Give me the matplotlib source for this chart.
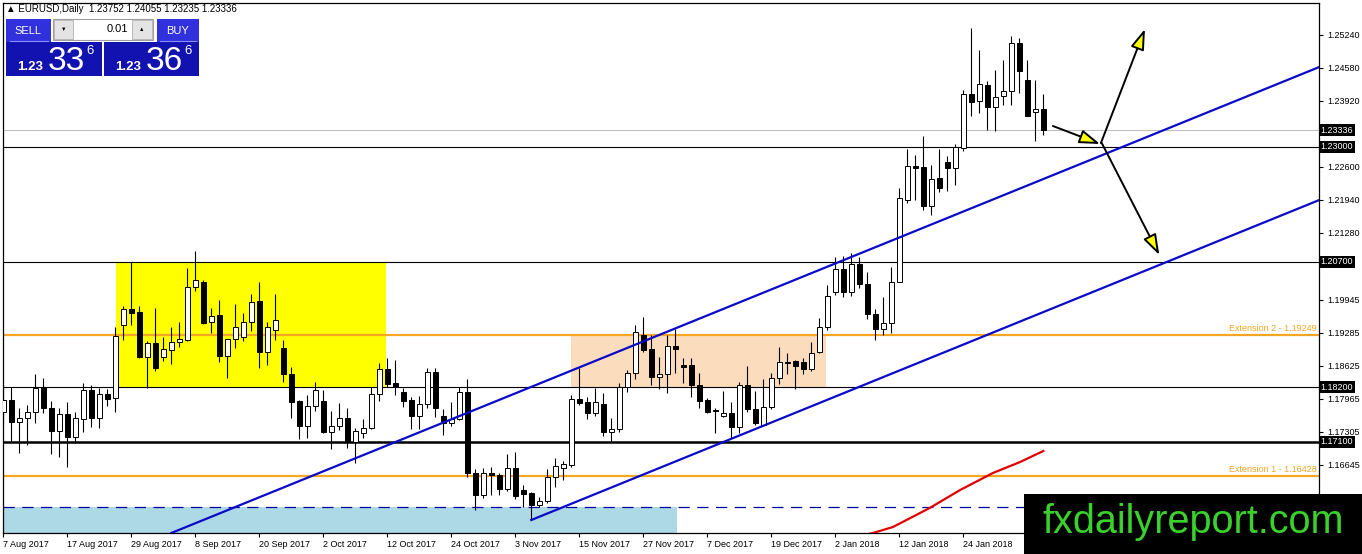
import numpy as np
import matplotlib.pyplot as plt
from matplotlib.patches import Rectangle, FancyArrowPatch
from matplotlib import transforms

plt.rcParams['font.family'] = ['Liberation Sans', 'DejaVu Sans']

# EURUSD daily candles, 7 Aug 2017 -> 7 Feb 2018 (bar index = trading day)
opens = [1.1770, 1.1794, 1.1750, 1.1758, 1.1770, 1.1820, 1.1778, 1.1732, 1.1766, 1.1720,
         1.1756, 1.1814, 1.1758, 1.1806, 1.1798, 1.1944, 1.1976, 1.1970, 1.1880, 1.1908,
         1.1880, 1.1894, 1.1910, 1.1914, 1.2020, 1.2030, 1.1950, 1.1964, 1.1882, 1.1916,
         1.1920, 1.1950, 1.1992, 1.1890, 1.1934, 1.1898, 1.1846, 1.1792, 1.1742, 1.1782,
         1.1792, 1.1730, 1.1742, 1.1758, 1.1710, 1.1728, 1.1738, 1.1806, 1.1856, 1.1828,
         1.1810, 1.1794, 1.1762, 1.1786, 1.1850, 1.1762, 1.1748, 1.1756, 1.1810, 1.1648,
         1.1604, 1.1648, 1.1644, 1.1616, 1.1658, 1.1614, 1.1608, 1.1584, 1.1592, 1.1640,
         1.1658, 1.1664, 1.1796, 1.1790, 1.1768, 1.1786, 1.1730, 1.1736, 1.1820, 1.1848,
         1.1924, 1.1896, 1.1840, 1.1846, 1.1902, 1.1864, 1.1864, 1.1824, 1.1794, 1.1774,
         1.1762, 1.1768, 1.1740, 1.1824, 1.1776, 1.1744, 1.1780, 1.1838, 1.1870, 1.1872,
         1.1870, 1.1856, 1.1890, 1.1940, 1.2010, 1.2056, 1.2010, 1.2066, 1.2026, 1.1966,
         1.1936, 1.1948, 1.2030, 1.2194, 1.2262, 1.2260, 1.2182, 1.2238, 1.2270, 1.2258,
         1.2298, 1.2406, 1.2392, 1.2424, 1.2380, 1.2402, 1.2412, 1.2508, 1.2434, 1.2370,
         1.23752]
highs = [1.1824, 1.1820, 1.1778, 1.1784, 1.1846, 1.1838, 1.1792, 1.1778, 1.1790, 1.1770,
         1.1828, 1.1824, 1.1818, 1.1816, 1.1940, 1.1982, 1.2070, 1.1982, 1.1912, 1.1978,
         1.1920, 1.1940, 1.1950, 1.2058, 1.2092, 1.2034, 1.1978, 1.1994, 1.1916, 1.1986,
         1.1968, 1.2006, 1.2030, 1.1950, 1.2006, 1.1914, 1.1860, 1.1794, 1.1804, 1.1830,
         1.1814, 1.1772, 1.1788, 1.1778, 1.1738, 1.1756, 1.1820, 1.1868, 1.1878, 1.1874,
         1.1818, 1.1800, 1.1802, 1.1858, 1.1858, 1.1776, 1.1790, 1.1820, 1.1836, 1.1656,
         1.1658, 1.1660, 1.1648, 1.1686, 1.1690, 1.1624, 1.1610, 1.1600, 1.1656, 1.1678,
         1.1672, 1.1804, 1.1858, 1.1800, 1.1818, 1.1808, 1.1758, 1.1828, 1.1854, 1.1944,
         1.1960, 1.1924, 1.1880, 1.1924, 1.1936, 1.1878, 1.1878, 1.1848, 1.1798, 1.1778,
         1.1812, 1.1790, 1.1830, 1.1862, 1.1812, 1.1836, 1.1848, 1.1900, 1.1888, 1.1874,
         1.1878, 1.1910, 1.1958, 1.2024, 1.2080, 1.2082, 1.2088, 1.2080, 1.2050, 1.1976,
         1.2000, 1.2060, 1.2218, 1.2296, 1.2284, 1.2322, 1.2264, 1.2296, 1.2282, 1.2306,
         1.2414, 1.2538, 1.2494, 1.2432, 1.2454, 1.2474, 1.2522, 1.2518, 1.2474, 1.2434,
         1.24055]
lows = [1.1744, 1.1710, 1.1688, 1.1704, 1.1748, 1.1768, 1.1686, 1.1680, 1.1660, 1.1708,
        1.1730, 1.1740, 1.1738, 1.1782, 1.1770, 1.1914, 1.1944, 1.1878, 1.1818, 1.1852,
        1.1872, 1.1866, 1.1900, 1.1912, 1.2012, 1.1946, 1.1928, 1.1870, 1.1838, 1.1898,
        1.1912, 1.1932, 1.1858, 1.1864, 1.1914, 1.1830, 1.1758, 1.1716, 1.1718, 1.1772,
        1.1728, 1.1696, 1.1734, 1.1698, 1.1668, 1.1718, 1.1736, 1.1792, 1.1820, 1.1804,
        1.1780, 1.1736, 1.1736, 1.1778, 1.1760, 1.1724, 1.1742, 1.1754, 1.1640, 1.1574,
        1.1598, 1.1604, 1.1604, 1.1612, 1.1596, 1.1580, 1.1554, 1.1580, 1.1588, 1.1620,
        1.1634, 1.1660, 1.1784, 1.1756, 1.1762, 1.1722, 1.1710, 1.1730, 1.1810, 1.1836,
        1.1890, 1.1824, 1.1816, 1.1808, 1.1848, 1.1828, 1.1800, 1.1778, 1.1768, 1.1728,
        1.1760, 1.1718, 1.1728, 1.1770, 1.1744, 1.1742, 1.1776, 1.1826, 1.1846, 1.1816,
        1.1846, 1.1852, 1.1888, 1.1934, 1.2004, 1.2000, 1.2002, 1.2018, 1.1956, 1.1914,
        1.1924, 1.1928, 1.2030, 1.2188, 1.2194, 1.2174, 1.2164, 1.2210, 1.2212, 1.2224,
        1.2292, 1.2362, 1.2368, 1.2334, 1.2332, 1.2384, 1.2384, 1.2408, 1.2362, 1.2312,
        1.23235]
closes = [1.1794, 1.1750, 1.1758, 1.1770, 1.1818, 1.1778, 1.1732, 1.1766, 1.1720, 1.1758,
          1.1814, 1.1758, 1.1806, 1.1796, 1.1922, 1.1976, 1.1968, 1.1880, 1.1908, 1.1858,
          1.1896, 1.1910, 1.1916, 1.2020, 1.2034, 1.1948, 1.1962, 1.1882, 1.1916, 1.1940,
          1.1950, 1.1990, 1.1890, 1.1940, 1.1954, 1.1846, 1.1790, 1.1742, 1.1782, 1.1814,
          1.1730, 1.1742, 1.1758, 1.1710, 1.1732, 1.1738, 1.1806, 1.1856, 1.1826, 1.1820,
          1.1792, 1.1762, 1.1786, 1.1850, 1.1778, 1.1748, 1.1756, 1.1810, 1.1648, 1.1604,
          1.1648, 1.1644, 1.1616, 1.1658, 1.1602, 1.1606, 1.1584, 1.1592, 1.1640, 1.1662,
          1.1666, 1.1796, 1.1788, 1.1768, 1.1790, 1.1730, 1.1736, 1.1820, 1.1848, 1.1930,
          1.1894, 1.1840, 1.1846, 1.1902, 1.1896, 1.1860, 1.1824, 1.1792, 1.1770, 1.1772,
          1.1768, 1.1740, 1.1824, 1.1776, 1.1748, 1.1780, 1.1838, 1.1870, 1.1868, 1.1862,
          1.1856, 1.1888, 1.1940, 1.2002, 1.2056, 1.2010, 1.2066, 1.2026, 1.1966, 1.1936,
          1.1948, 1.2030, 1.2198, 1.2262, 1.2258, 1.2182, 1.2236, 1.2218, 1.2258, 1.2300,
          1.2406, 1.2390, 1.2426, 1.2380, 1.2400, 1.2412, 1.2508, 1.2452, 1.2362, 1.2376,
          1.23336]

date_labels = ["7 Aug 2017", "17 Aug 2017", "29 Aug 2017", "8 Sep 2017", "20 Sep 2017",
               "2 Oct 2017", "12 Oct 2017", "24 Oct 2017", "3 Nov 2017", "15 Nov 2017",
               "27 Nov 2017", "7 Dec 2017", "19 Dec 2017", "2 Jan 2018", "12 Jan 2018",
               "24 Jan 2018"]
date_bars = list(range(0, 121, 8))

price_ticks = [1.25240, 1.24580, 1.23920, 1.23260, 1.22600, 1.21940, 1.21280, 1.20620,
               1.19945, 1.19285, 1.18625, 1.17965, 1.17305, 1.16645, 1.15985]
hidden_ticks = [1.23260, 1.20620]   # covered by the level boxes

levels = [1.23000, 1.20700, 1.18200]
strong_level = 1.17100
current_price = 1.23336
ext_levels = [1.19249, 1.16428]
ext_names = ["Extension 2 - 1.19249", "Extension 1 - 1.16428"]
dashed_level = 1.1580

# zones (bar from, bar to, price low, price high)
yellow_zone = (14.1, 47.8, 1.1820, 1.2070)
peach_zone = (71.0, 102.8, 1.1820, 1.19249)
blue_zone = (-1, 84.2, 1.1500, 1.1580)

# channel lines
upper_x = [21.0, 164.5]
upper_y = [1.1528, 1.2460]
lower_x = [66.0, 164.5]
lower_y = [1.1554, 1.2194]

# moving average (red)
ma_x = [107, 108.7, 111.2, 115.8, 119.6, 123.7, 127.1, 130]
ma_y = [1.1522, 1.1528, 1.1540, 1.1578, 1.1614, 1.1648, 1.1670, 1.1692]

# scenario arrows
arrow_from = [(131.2, 1.2342), (137.2, 1.2308), (137.3, 1.2308)]
arrow_to = [(137.1, 1.2306), (142.7, 1.2536), (144.5, 1.2084)]

W, H = 1362, 554
fig = plt.figure(figsize=(W / 100, H / 100), dpi=100)
ax = fig.add_axes([3 / W, (H - 533) / H, 1316 / W, 530 / H])
ax.set_xlim(-0.04, 164.46)
ax.set_ylim(1.1528, 1.2588)

# zones
for (x0, x1, y0, y1), col in [(yellow_zone, '#ffff00'), (peach_zone, '#fbdcbc'),
                              (blue_zone, '#add8e6')]:
    ax.add_patch(Rectangle((x0, y0), x1 - x0, y1 - y0, facecolor=col,
                           edgecolor='none', zorder=1))

# horizontal levels
for lv in levels:
    ax.axhline(lv, color='black', lw=0.8, zorder=2)
ax.axhline(strong_level, color='black', lw=1.8, zorder=2)
ax.axhline(current_price, color='#c0c0c0', lw=0.8, zorder=2)
for lv, name in zip(ext_levels, ext_names):
    ax.axhline(lv, color='#f5a623', lw=1.6, zorder=2)
    ax.text(164.2, lv + 0.0003, name, color='#f5a623', fontsize=6.5,
            ha='right', va='bottom', zorder=3)
ax.axhline(dashed_level, color='#0000a0', lw=0.9, dashes=(9, 6), zorder=2)

# candles
x = np.arange(len(opens))
o = np.array(opens)
c = np.array(closes)
ax.vlines(x, lows, highs, color='black', lw=0.8, zorder=4)
body = np.maximum(np.abs(c - o), 0.00006)
cols = ['white' if cc >= oo else 'black' for oo, cc in zip(o, c)]
ax.bar(x, body, bottom=np.minimum(o, c), width=0.62, color=cols,
       edgecolor='black', lw=0.7, zorder=5)

# channel and MA
ax.plot(upper_x, upper_y, color='#0a0ac8', lw=1.6, zorder=6)
ax.plot(lower_x, lower_y, color='#0a0ac8', lw=1.6, zorder=6)
ax.plot(ma_x, ma_y, color='#e00000', lw=1.6, zorder=6)

for a, b in zip(arrow_from, arrow_to):
    ax.add_patch(FancyArrowPatch(a, b, arrowstyle='-|>,head_length=0.9,head_width=0.3',
                                 mutation_scale=14, lw=1.4, facecolor='#ffff00',
                                 edgecolor='black', shrinkA=0, shrinkB=0, zorder=7))

# axes styling
for s in ax.spines.values():
    s.set_color('black')
    s.set_linewidth(0.9)
ax.yaxis.tick_right()
ax.set_yticks(price_ticks)
ax.set_yticklabels(['' if p in hidden_ticks else '%.5f' % p for p in price_ticks])
ax.set_xticks(date_bars)
ax.set_xticklabels(date_labels, ha='left')
ax.tick_params(axis='both', labelsize=6.5, length=3, width=0.8, pad=2)
ax.tick_params(axis='y', pad=3)

# price boxes on the right axis
tr = transforms.blended_transform_factory(ax.transAxes, ax.transData)
for p in [current_price] + levels + [strong_level]:
    ax.text(1.0012, p, '%.5f' % p, transform=tr, color='white', fontsize=6.5,
            ha='left', va='center', clip_on=False, zorder=20,
            bbox=dict(facecolor='black', edgecolor='none', pad=1.2))

# overlay in pixel space: header, trade panel, watermark
ov = fig.add_axes([0, 0, 1, 1], zorder=10)
ov.set_xlim(0, W)
ov.set_ylim(H, 0)
ov.axis('off')
ov.patch.set_alpha(0)

ov.text(6, 9, '\u25b2 EURUSD,Daily  1.23752 1.24055 1.23235 1.23336', fontsize=7,
        va='center', ha='left', color='black')

ov.add_patch(Rectangle((6, 19), 45, 23, facecolor='#3030dc', edgecolor='none'))
ov.add_patch(Rectangle((157, 19), 42, 23, facecolor='#3030dc', edgecolor='none'))
ov.add_patch(Rectangle((6, 42), 96, 34, facecolor='#1212b0', edgecolor='none'))
ov.add_patch(Rectangle((104, 42), 95, 34, facecolor='#1212b0', edgecolor='none'))
ov.plot([10, 48], [41, 41], color='#8c8cff', lw=0.8)
ov.plot([160, 196], [41, 41], color='#8c8cff', lw=0.8)
ov.text(28, 30.5, 'SELL', color='white', fontsize=8, ha='center', va='center')
ov.text(178, 30.5, 'BUY', color='white', fontsize=8, ha='center', va='center')

ov.add_patch(Rectangle((53, 19), 100, 21, facecolor='white', edgecolor='#a0a0a0', lw=0.8))
ov.add_patch(Rectangle((54, 20), 19, 19, facecolor='#e4e4e4', edgecolor='#b0b0b0', lw=0.6))
ov.add_patch(Rectangle((132, 20), 20, 19, facecolor='#e4e4e4', edgecolor='#b0b0b0', lw=0.6))
ov.text(63.5, 29.5, '\u25bc', fontsize=4, ha='center', va='center')
ov.text(142, 29.5, '\u25b2', fontsize=4, ha='center', va='center')
ov.text(128, 29.5, '0.01', fontsize=8, ha='right', va='center')

for x0, big in [(6, '33'), (104, '36')]:
    ov.text(x0 + 24, 67, '1.23', color='white', fontsize=9.5, ha='center',
            va='center', fontweight='bold')
    ov.text(x0 + 60, 62, big, color='white', fontsize=24, ha='center', va='center')
    ov.text(x0 + 84, 51, '6', color='white', fontsize=9.5, ha='center', va='center')

ov.add_patch(Rectangle((1024, 494), W - 1024, H - 494, facecolor='black',
                       edgecolor='none'))
ov.text(1193, 522, 'fxdailyreport.com', color='#3ad12c', fontsize=28.5,
        ha='center', va='center')

fig.savefig('out.png', dpi=100)
